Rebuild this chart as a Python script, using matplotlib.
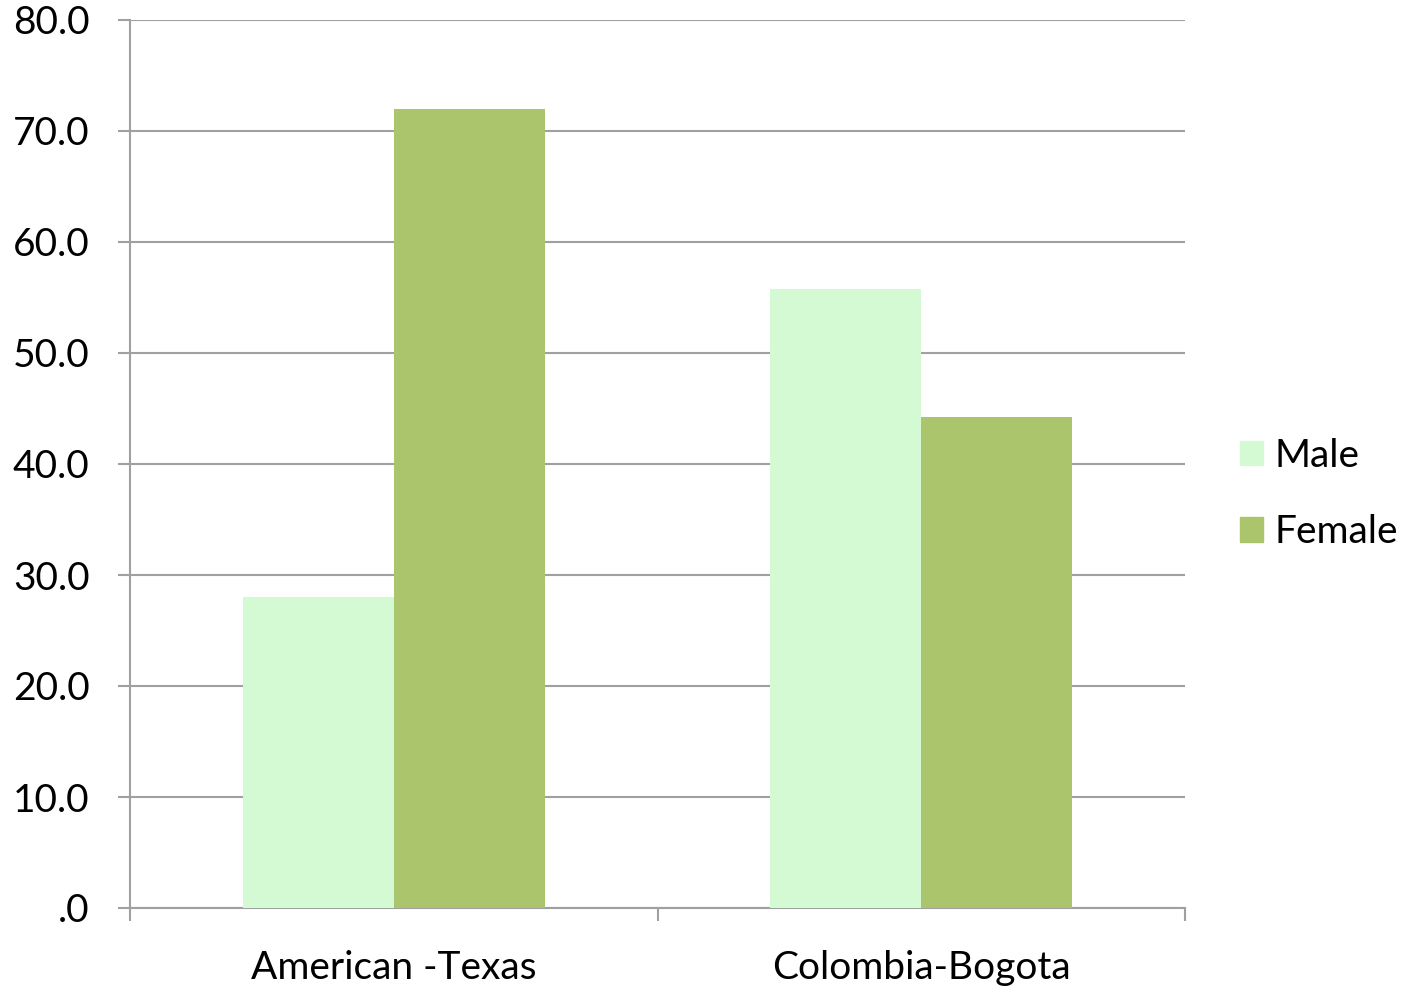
import numpy as np
import matplotlib.pyplot as plt
from matplotlib.patches import Patch

# dados
categorias = ["American -Texas", "Colombia-Bogota"]
male = [28.0, 55.8]
female = [72.0, 44.2]
yticks = [0, 10, 20, 30, 40, 50, 60, 70, 80]
ytick_labels = [".0", "10.0", "20.0", "30.0", "40.0", "50.0", "60.0", "70.0", "80.0"]

plt.rcParams['font.family'] = ['Lato', 'DejaVu Sans']

fig = plt.figure(figsize=(14.06, 9.89), dpi=100)
ax = fig.add_axes([130/1406, 1-908/989, (1185-130)/1406, (908-20)/989])

x = np.arange(len(categorias))
w = 0.286
cor_m = '#D4FAD4'
cor_f = '#ABC56D'
ax.bar(x - w/2, male, w, color=cor_m, zorder=3)
ax.bar(x + w/2, female, w, color=cor_f, zorder=3)

ax.set_xlim(-0.5, 1.5)
ax.set_ylim(0, 80)
ax.set_yticks(yticks)
ax.set_yticklabels(ytick_labels, fontsize=28)
ax.set_xticks(x)
ax.set_xticklabels(categorias, fontsize=28)
ax.set_xticks([-0.5, 0.5, 1.5], minor=True)
ax.tick_params(axis='x', which='major', length=0, pad=30)
ax.tick_params(axis='x', which='minor', length=9, color='#A0A0A0', width=1.5)
ax.tick_params(axis='y', length=9, color='#A0A0A0', width=1.5, pad=20)
ax.yaxis.grid(True, color='#A0A0A0', linewidth=1.5, zorder=0)

for s in ['top', 'right']:
    ax.spines[s].set_visible(False)
for s in ['left', 'bottom']:
    ax.spines[s].set_color('#A0A0A0')
    ax.spines[s].set_linewidth(1.5)

# legenda à direita
handles = [Patch(color=cor_m, label='Male'), Patch(color=cor_f, label='Female')]
fig.legend(handles=handles, loc='center left', bbox_to_anchor=(1240/1406, 1-494/989),
           frameon=False, fontsize=28, handlelength=0.6, handleheight=0.6,
           handletextpad=0.3, labelspacing=1.05, borderpad=0, borderaxespad=0)

plt.savefig('out.png', dpi=100)
